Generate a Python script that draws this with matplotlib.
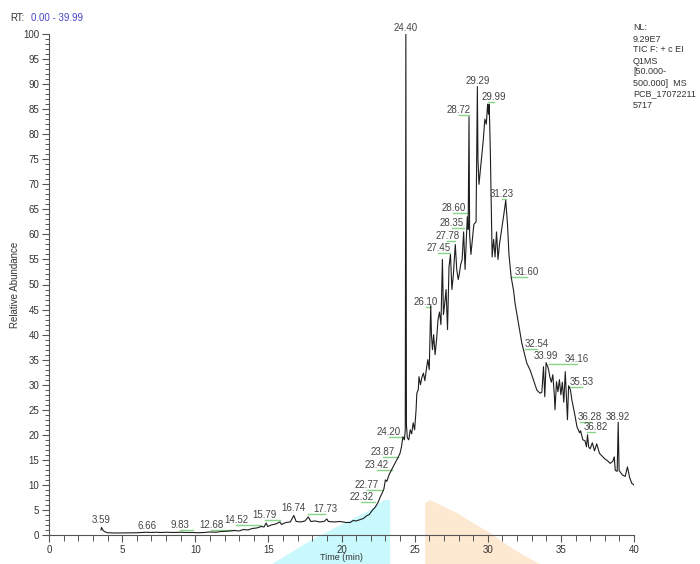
import numpy as np
import matplotlib
matplotlib.use("Agg")
import matplotlib.pyplot as plt
from matplotlib.ticker import MultipleLocator

plt.rcParams['font.family'] = ['Liberation Sans', 'DejaVu Sans']

# TIC trace, time (min) / relative abundance (%)
times = [3.55, 3.59, 3.70, 3.85, 4.0, 4.5, 5.0, 5.5, 6.0, 6.3, 6.66, 7.0, 7.3, 7.7,
         8.0, 8.5, 9.0, 9.4, 9.83, 10.2, 10.6, 11.0, 11.4, 11.8, 12.2, 12.68, 13.0,
         13.3, 13.6, 13.9, 14.2, 14.52, 14.7, 14.85, 14.95, 15.2, 15.5, 15.79, 15.9,
         16.2, 16.5, 16.74, 16.9, 17.2, 17.5, 17.73, 17.9, 18.2, 18.5, 18.8, 19.0,
         19.1, 19.5, 19.9, 20.3, 20.6, 20.8, 21.0, 21.3, 21.5, 21.7, 21.9, 22.1,
         22.32, 22.5, 22.65, 22.77, 22.9, 23.0, 23.1, 23.25, 23.42, 23.6, 23.75,
         23.87, 24.0, 24.1, 24.20, 24.3, 24.36, 24.40, 24.44, 24.5, 24.6, 24.7,
         24.8, 24.9, 25.0, 25.1, 25.15, 25.25, 25.3, 25.4, 25.5, 25.6, 25.7, 25.8,
         25.9, 26.0, 26.10, 26.15, 26.22, 26.3, 26.4, 26.5, 26.6, 26.7, 26.8, 26.9,
         26.97, 27.05, 27.15, 27.25, 27.35, 27.45, 27.55, 27.65, 27.78, 27.88,
         27.98, 28.05, 28.15, 28.25, 28.35, 28.45, 28.52, 28.60, 28.66, 28.72,
         28.76, 28.85, 28.95, 29.05, 29.2, 29.29, 29.33, 29.4, 29.5, 29.6, 29.7,
         29.8, 29.9, 29.99, 30.05, 30.1, 30.18, 30.3, 30.4, 30.5, 30.6, 30.7, 30.8,
         31.0, 31.1, 31.23, 31.35, 31.45, 31.60, 31.76, 31.87, 32.1, 32.33, 32.54,
         32.67, 32.9, 33.13, 33.36, 33.58, 33.7, 33.81, 33.9, 33.99, 34.1, 34.16,
         34.25, 34.35, 34.45, 34.55, 34.6, 34.7, 34.8, 34.9, 35.0, 35.1, 35.2, 35.3,
         35.4, 35.45, 35.53, 35.65, 35.75, 35.98, 36.1, 36.28, 36.35, 36.5, 36.65,
         36.75, 36.82, 36.9, 37.0, 37.15, 37.3, 37.45, 37.64, 37.8, 38.0, 38.2,
         38.37, 38.55, 38.65, 38.72, 38.85, 38.92, 38.98, 39.2, 39.4, 39.55, 39.7,
         39.85, 39.99]
abundance = [1.0, 1.5, 0.9, 0.6, 0.45, 0.4, 0.42, 0.45, 0.45, 0.5, 0.55, 0.5, 0.55, 0.5,
             0.55, 0.5, 0.55, 0.5, 0.5, 0.45, 0.5, 0.6, 0.55, 0.7, 0.75, 0.9, 0.8,
             1.1, 1.0, 1.3, 1.4, 1.7, 1.6, 2.4, 1.7, 2.0, 2.2, 2.6, 2.1,
             2.5, 2.6, 3.9, 2.7, 2.6, 2.8, 3.6, 2.7, 2.8, 2.6, 2.7, 3.2,
             2.7, 2.6, 2.7, 2.5, 2.5, 2.9, 2.8, 3.1, 3.3, 3.8, 4.1, 4.9,
             5.6, 6.5, 7.6, 8.3, 9.2, 11.0, 10.7, 12.0, 13.0, 14.0, 14.8,
             15.5, 16.3, 17.6, 19.6, 19.0, 21.0, 100.0, 22.0, 19.4, 19.0, 21.0,
             20.2, 22.4, 21.0, 25.0, 28.3, 29.0, 31.6, 30.0, 31.5, 32.3, 30.8, 33.0,
             35.0, 33.0, 45.8, 40.0, 37.0, 40.0, 36.0, 39.0, 43.0, 44.5, 42.0, 55.0,
             44.0, 46.0, 49.0, 41.0, 53.5, 56.0, 49.0, 52.0, 58.0, 53.0,
             51.0, 52.0, 54.0, 55.0, 60.5, 53.0, 58.0, 63.5, 61.0, 83.5,
             60.0, 56.0, 59.0, 62.0, 62.5, 89.5, 75.0, 70.0, 73.0, 76.0, 79.0,
             83.0, 82.0, 86.0, 84.0, 86.0, 76.0, 55.5, 59.0, 55.5, 60.5, 55.0, 58.0,
             62.0, 64.0, 66.8, 62.0, 56.0, 51.5, 48.9, 46.2, 42.3, 38.3, 35.8,
             34.3, 32.9, 30.9, 28.9, 28.3, 28.5, 33.6, 27.6, 34.4, 33.6, 33.0,
             31.5, 30.5, 32.0, 28.0, 25.0, 30.6, 28.6, 31.0, 28.0, 30.5, 26.5, 32.6,
             26.0, 23.0, 29.8, 29.0, 27.0, 23.6, 21.6, 20.4, 20.8, 19.0, 18.8,
             17.6, 20.0, 17.6, 17.2, 18.4, 16.8, 18.2, 16.3, 15.8, 15.2, 14.8,
             14.3, 14.7, 15.6, 12.9, 12.7, 22.5, 12.9, 12.0, 11.7, 13.6, 11.5,
             10.3, 10.0]

# labelled peaks and where their labels sit (pixel offset from the peak)
peak_times = [3.59, 6.66, 9.83, 12.68, 14.52, 15.79, 16.74, 17.73, 22.32, 22.77,
              23.42, 23.87, 24.20, 24.40, 26.10, 27.45, 27.78, 28.35, 28.60, 28.72,
              29.29, 29.99, 31.23, 31.60, 32.54, 33.99, 34.16, 35.53, 36.28, 36.82,
              38.92]
label_dx = [0, 1, -13, -23, -25, -15, 0, 17, -14, -15, -15, -15, -14, 0, -5, -12,
            -8, -12, -14, -10, 0, 6, -4, 16, 12, 0, 28, 13, 10, 8, 0]
label_dy = [7.5, 6.5, 7, 5, 6.5, 7, 7, 8, 10, 8.4, 5, 5.6, 5, 6, 3.5, 6.7,
            8.7, 8.6, 9.2, 6.7, 6, 7.4, 6.3, 4.7, 11.6, 6.7, 11, 4, 15.5, 7.5, 5.6]

fig = plt.figure(figsize=(7, 5.64), dpi=100)
ax = fig.add_axes([49 / 700, 1 - 535 / 564, 585 / 700, 501 / 564])
ax.patch.set_alpha(0)

ax.set_xlim(0, 40)
ax.set_ylim(0, 100)

# light coloured wedges under the axis
cyan_x = [15.25, 18.19, 20.38, 21.96, 22.91, 23.32, 23.32]
cyan_y = [-5.8, -0.6, 2.6, 5.0, 7.0, 7.0, -5.8]
ax.fill(cyan_x, cyan_y, color='#c9f9fc', lw=0, clip_on=False, zorder=0)
orange_x = [25.72, 25.72, 26.06, 26.74, 27.9, 29.0, 30.16, 31.33, 32.42, 33.58]
orange_y = [-5.8, 6.4, 7.0, 6.0, 4.4, 2.4, 0.4, -2.0, -4.0, -5.8]
ax.fill(orange_x, orange_y, color='#fde8d2', lw=0, clip_on=False, zorder=0)

ax.plot(times, abundance, color='#1e1e1e', lw=0.8, zorder=3)

for spine in ['top', 'right']:
    ax.spines[spine].set_visible(False)
for spine in ['left', 'bottom']:
    ax.spines[spine].set_color('#555555')
    ax.spines[spine].set_linewidth(0.8)

ax.xaxis.set_major_locator(MultipleLocator(5))
ax.xaxis.set_minor_locator(MultipleLocator(1))
ax.yaxis.set_major_locator(MultipleLocator(5))
ax.yaxis.set_minor_locator(MultipleLocator(1))
ax.tick_params(which='major', length=5, width=0.8, color='#555555',
               labelsize=7, labelcolor='#333333', pad=2)
ax.tick_params(which='minor', length=3, width=0.7, color='#555555')
ax.tick_params(axis='x', which='minor', length=4)

ax.set_xlabel("Time (min)", fontsize=6.5, color='#333333', labelpad=-1)
ax.set_ylabel("Relative Abundance", fontsize=7, color='#333333', labelpad=2)

to_data = ax.transData.inverted()
for t, dx, dy in zip(peak_times, label_dx, label_dy):
    v = abundance[times.index(t)]
    px, py = ax.transData.transform((t, v))
    tx, ty = to_data.transform((px + dx, py + dy))
    _, gy = to_data.transform((px + dx, py + dy - 5))
    if abs(dx) > 2:
        ax.plot([tx, t], [gy, gy], color='#86d486', lw=1, clip_on=False, zorder=2)
    ax.text(tx, ty, f"{t:.2f}", fontsize=7, color='#444444', ha='center',
            va='center', clip_on=False, zorder=4)

fig.text(10 / 700, 1 - 18 / 564, "RT:", fontsize=7, color='#333333', va='center')
fig.text(31 / 700, 1 - 18 / 564, "0.00 - 39.99", fontsize=7, color='#4646c8',
         va='center')

info = ["NL:", "9.29E7", "TIC F: + c EI", "Q1MS", "[50.000-", "500.000]  MS",
        "PCB_17072211", "5717"]
for i, line in enumerate(info):
    fig.text(633 / 700, 1 - (28 + 11 * i) / 564, line, fontsize=6.5,
             color='#333333', va='center')

fig.savefig("out.png", dpi=100)
